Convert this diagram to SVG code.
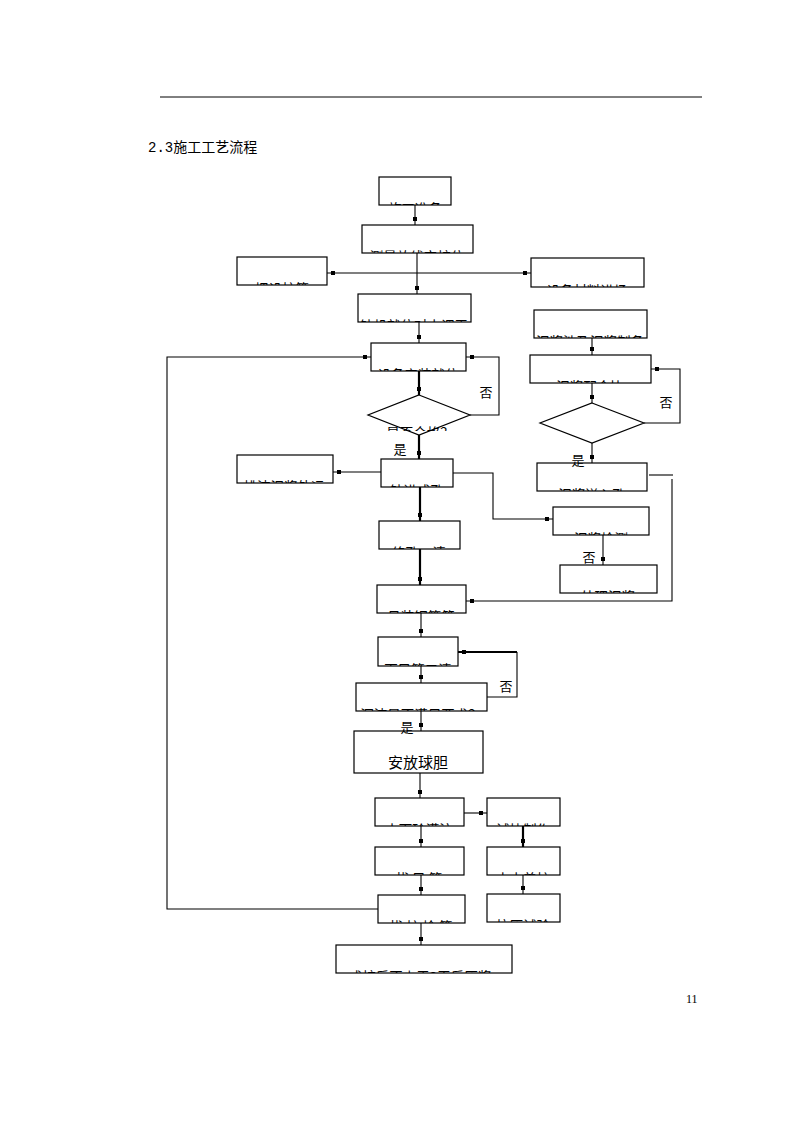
<svg xmlns="http://www.w3.org/2000/svg" width="794" height="1123" viewBox="0 0 794 1123">
<style>
text{font-family:"Noto Sans CJK SC","Noto Sans",sans-serif;fill:#000}
.lb{font-size:13.5px;text-anchor:middle}
.bx{fill:none;stroke:#000;stroke-width:1.2}
.c{fill:none;stroke:#000;stroke-width:1.1}
.t{stroke-width:2.2}
.yn{font-size:13px;text-anchor:middle}
</style>
<defs>
<marker id="a" viewBox="-10 -3 10 6" refX="0" refY="0" markerWidth="10" markerHeight="6" markerUnits="userSpaceOnUse" orient="auto"><rect x="-8" y="-2" width="4" height="4" fill="#000"/></marker>
</defs>
<rect width="794" height="1123" fill="#fff"/>
<line x1="160" y1="97" x2="702" y2="97" stroke="#000" stroke-width="1"/>
<text x="148" y="152" font-size="14"><tspan style="font-family:'Liberation Mono',monospace">2.3</tspan>施工工艺流程</text>
<text x="686" y="1003" font-size="12" style="font-family:'Liberation Serif',serif">11</text>

<g id="connectors">
<path class="c" d="M415 205V225" marker-end="url(#a)"/>
<path class="c" d="M417 253V294" marker-end="url(#a)"/>
<path class="c" d="M417 273H327" marker-end="url(#a)"/>
<path class="c" d="M417 273H531" marker-end="url(#a)"/>
<path class="c" d="M419 322V343" marker-end="url(#a)"/>
<path class="c" d="M378 909H167V357H371" marker-end="url(#a)"/>
<path class="c" d="M470 415H499V357H466" marker-end="url(#a)"/>
<path class="c t" d="M419 371V395" marker-end="url(#a)"/>
<path class="c t" d="M419 435V459" marker-end="url(#a)"/>
<path class="c" d="M381 472H333" marker-end="url(#a)"/>
<path class="c" d="M453 473H493V519H553" marker-end="url(#a)"/>
<path class="c t" d="M420 487V521" marker-end="url(#a)"/>
<path class="c t" d="M420 549V585" marker-end="url(#a)"/>
<path class="c" d="M592 338V355" marker-end="url(#a)"/>
<path class="c" d="M644 423H680V369H651" marker-end="url(#a)"/>
<path class="c" d="M592 383V403" marker-end="url(#a)"/>
<path class="c" d="M592 443V463" marker-end="url(#a)"/>
<path class="c" d="M649 475H673"/>
<path class="c" d="M672 479V601H466" marker-end="url(#a)"/>
<path class="c" d="M603 535V565" marker-end="url(#a)"/>
<path class="c" d="M421 613V637" marker-end="url(#a)"/>
<path class="c" d="M421 666V683" marker-end="url(#a)"/>
<path class="c" d="M487 697H517V652"/>
<path class="c t" d="M517 652H458" marker-end="url(#a)"/>
<path class="c" d="M421 711V731" marker-end="url(#a)"/>
<path class="c" d="M420 773V798" marker-end="url(#a)"/>
<path class="c" d="M464 813H487" marker-end="url(#a)"/>
<path class="c" d="M421 826V847" marker-end="url(#a)"/>
<path class="c t" d="M523 826V847" marker-end="url(#a)"/>
<path class="c" d="M523 875V894" marker-end="url(#a)"/>
<path class="c" d="M421 875V895" marker-end="url(#a)"/>
<path class="c" d="M421 923V945" marker-end="url(#a)"/>
<text class="yn" x="486" y="397">否</text>
<text class="yn" x="400" y="454">是</text>
<text class="yn" x="666" y="407">否</text>
<text class="yn" x="578" y="465">是</text>
<text class="yn" x="589" y="562">否</text>
<text class="yn" x="506" y="691">否</text>
<text class="yn" x="407" y="732">是</text>
</g>

<g id="n1"><svg x="379" y="177" width="72" height="28"><text class="lb" x="36" y="37">施工准备</text></svg><rect class="bx" x="379" y="177" width="72" height="28"/></g>
<g id="n2"><svg x="362" y="225" width="111" height="28"><text class="lb" x="55" y="37">测量放线定桩位</text></svg><rect class="bx" x="362" y="225" width="111" height="28"/></g>
<g id="n3"><svg x="237" y="257" width="90" height="28"><text class="lb" x="45" y="37">埋设护筒</text></svg><rect class="bx" x="237" y="257" width="90" height="28"/></g>
<g id="n4"><svg x="531" y="258" width="113" height="29"><text class="lb" x="56" y="38">设备材料进场</text></svg><rect class="bx" x="531" y="258" width="113" height="29"/></g>
<g id="n5"><svg x="358" y="294" width="113" height="28"><text class="lb" x="56" y="37">钻机就位对中调平</text></svg><rect class="bx" x="358" y="294" width="113" height="28"/></g>
<g id="n6"><svg x="371" y="343" width="95" height="28"><text class="lb" x="47" y="37">设备安装就位</text></svg><rect class="bx" x="371" y="343" width="95" height="28"/></g>
<g id="n7"><svg x="385" y="400" width="70" height="31"><text class="lb" x="35" y="38">是否合格？</text></svg><polygon class="bx" points="419,395 470,415 419,435 368,415"/></g>
<g id="n8"><svg x="381" y="459" width="72" height="28"><text class="lb" x="36" y="37">钻进成孔</text></svg><rect class="bx" x="381" y="459" width="72" height="28"/></g>
<g id="n9"><svg x="237" y="455" width="96" height="28"><text class="lb" x="47" y="37">排渣泥浆外运</text></svg><rect class="bx" x="237" y="455" width="96" height="28"/></g>
<g id="n10"><svg x="379" y="521" width="81" height="28"><text class="lb" x="40" y="37">终孔一清</text></svg><rect class="bx" x="379" y="521" width="81" height="28"/></g>
<g id="n11"><svg x="377" y="585" width="89" height="28"><text class="lb" x="44" y="37">吊装钢筋笼</text></svg><rect class="bx" x="377" y="585" width="89" height="28"/></g>
<g id="n12"><svg x="534" y="310" width="113" height="28"><text class="lb" x="56" y="37">泥浆池及泥浆制备</text></svg><rect class="bx" x="534" y="310" width="113" height="28"/></g>
<g id="n13"><svg x="530" y="355" width="121" height="28"><text class="lb" x="60" y="37">泥浆配合比</text></svg><rect class="bx" x="530" y="355" width="121" height="28"/></g>
<g id="n14"><polygon class="bx" points="592,403 644,423 592,443 540,423"/></g>
<g id="n15"><svg x="537" y="463" width="110" height="28"><text class="lb" x="55" y="37">泥浆送入孔</text></svg><rect class="bx" x="537" y="463" width="110" height="28"/></g>
<g id="n16"><svg x="553" y="507" width="96" height="28"><text class="lb" x="48" y="37">泥浆检测</text></svg><rect class="bx" x="553" y="507" width="96" height="28"/></g>
<g id="n17"><svg x="560" y="565" width="97" height="28"><text class="lb" x="48" y="37">处理泥浆</text></svg><rect class="bx" x="560" y="565" width="97" height="28"/></g>
<g id="n18"><svg x="378" y="637" width="80" height="29"><text class="lb" x="40" y="38">下导管二清</text></svg><rect class="bx" x="378" y="637" width="80" height="29"/></g>
<g id="n19"><svg x="356" y="683" width="131" height="28"><text class="lb" x="65" y="37">沉渣是否满足要求？</text></svg><rect class="bx" x="356" y="683" width="131" height="28"/></g>
<g id="n20"><rect class="bx" x="354" y="731" width="129" height="42"/><text x="418" y="768" font-size="15" text-anchor="middle">安放球胆</text></g>
<g id="n21"><svg x="375" y="798" width="89" height="28"><text class="lb" x="44" y="37">水下砼灌注</text></svg><rect class="bx" x="375" y="798" width="89" height="28"/></g>
<g id="n22"><svg x="487" y="798" width="73" height="28"><text class="lb" x="36" y="37">试块制作</text></svg><rect class="bx" x="487" y="798" width="73" height="28"/></g>
<g id="n23"><svg x="375" y="847" width="89" height="28"><text class="lb" x="44" y="37">拔 导 管</text></svg><rect class="bx" x="375" y="847" width="89" height="28"/></g>
<g id="n24"><svg x="487" y="847" width="73" height="28"><text class="lb" x="36" y="37">水中养护</text></svg><rect class="bx" x="487" y="847" width="73" height="28"/></g>
<g id="n25"><svg x="487" y="894" width="73" height="28"><text class="lb" x="36" y="37">抗压试验</text></svg><rect class="bx" x="487" y="894" width="73" height="28"/></g>
<g id="n26"><svg x="378" y="895" width="87" height="28"><text class="lb" x="43" y="37">拔 护 检 筒</text></svg><rect class="bx" x="378" y="895" width="87" height="28"/></g>
<g id="n27"><svg x="336" y="945" width="176" height="28"><text class="lb" x="84" y="37">成桩后不少于2天后压浆</text></svg><rect class="bx" x="336" y="945" width="176" height="28"/></g>
</svg>
